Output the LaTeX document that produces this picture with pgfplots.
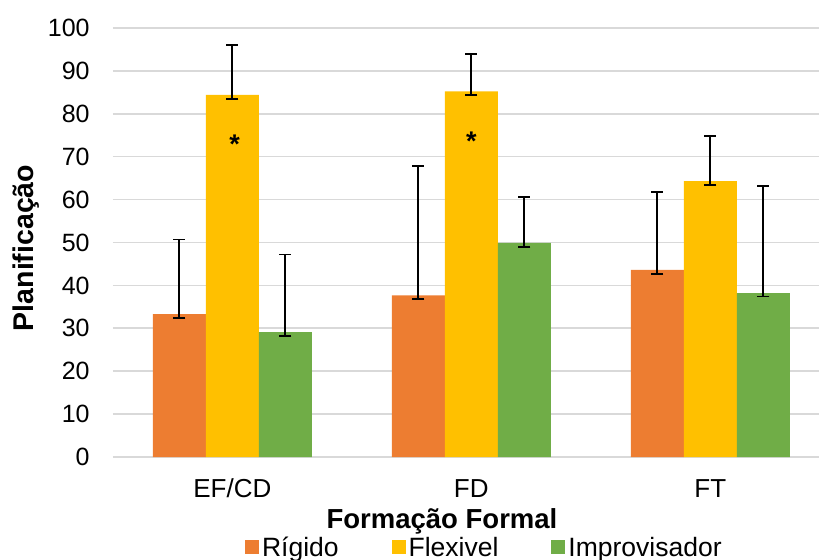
\documentclass[border=0pt]{standalone}
\usepackage{fontspec}
\setmainfont{Liberation Sans}
\usepackage{pgfplots}
\usepackage{pgfplotstable}
\pgfplotsset{compat=1.18}
\definecolor{cR}{HTML}{ED7D31}
\definecolor{cF}{HTML}{FFC000}
\definecolor{cI}{HTML}{70AD47}
\definecolor{gridc}{HTML}{D9D9D9}

\pgfplotstableread{
x y ep em
0 33.3 17.4 0.9
1 37.7 30.1 0.9
2 43.6 18.1 0.9
}\rigido
\pgfplotstableread{
x y ep em
0 84.4 11.6 1.0
1 85.2 8.7 0.9
2 64.3 10.6 0.9
}\flexivel
\pgfplotstableread{
x y ep em
0 29.1 18.1 0.9
1 49.9 10.7 0.9
2 38.2 25.0 0.8
}\improvisador

\begin{document}
\begin{tikzpicture}
\begin{axis}[
  at={(112.8bp,103bp)}, anchor=south west,
  scale only axis, width=717bp, height=429bp,
  xmin=-0.5, xmax=2.5, ymin=0, ymax=100,
  axis line style={draw=none},
  major tick length=0pt,
  ytick={0,10,...,100},
  xtick={0,1,2},
  xticklabels={EF/CD,FD,FT},
  ymajorgrids, xmajorgrids=false,
  grid style={draw=gridc, line width=1.6bp},
  /pgf/number format/assume math mode=true,
  yticklabel style={anchor=east, inner sep=0pt, xshift=-23bp, font=\fontsize{25bp}{30bp}\selectfont},
  xticklabel style={anchor=base, inner sep=0pt, yshift=-40bp, font=\fontsize{26bp}{31bp}\selectfont},
  ybar=0pt, bar width=53bp,
  clip=false,
  legend columns=3,
  legend style={at={(axis description cs:0.1844,-0.212)}, anchor=west,
    draw=none, fill=none, inner sep=0pt, outer sep=0pt,
    nodes={inner sep=0pt},
    font=\fontsize{26.5bp}{31bp}\selectfont,
    /tikz/every odd column/.style={column sep=3bp},
    /tikz/every even column/.style={column sep=53bp}},
  legend image code/.code={\fill[#1] (0bp,-6.2bp) rectangle (14bp,7.8bp);},
  error bars/y dir=both, error bars/y explicit,
  error bars/error bar style={draw=black, line width=1.75bp},
  error bars/error mark options={draw=black, rotate=90, mark size=6bp, line width=1.75bp},
]
\addplot[fill=cR, draw=none] table[x=x, y=y, y error plus=ep, y error minus=em] {\rigido};
\addlegendentry{Rígido}
\addplot[fill=cF, draw=none] table[x=x, y=y, y error plus=ep, y error minus=em] {\flexivel};
\addlegendentry{Flexivel}
\addplot[fill=cI, draw=none] table[x=x, y=y, y error plus=ep, y error minus=em] {\improvisador};
\addlegendentry{Improvisador}
\node[anchor=base, inner sep=0pt, font=\bfseries\fontsize{27bp}{27bp}\selectfont] at (axis cs:0.01,70.8) {*};
\node[anchor=base, inner sep=0pt, font=\bfseries\fontsize{27bp}{27bp}\selectfont] at (axis cs:1,71.4) {*};
\end{axis}
\node[anchor=base, inner sep=0pt, font=\bfseries\fontsize{27.5bp}{33bp}\selectfont] at (442bp,32bp) {Formação Formal};
\node[anchor=base, inner sep=0pt, rotate=90, font=\bfseries\fontsize{28.5bp}{34bp}\selectfont] at (33bp,312bp) {Planificação};
\pgfresetboundingbox
\path[use as bounding box] (0,0) rectangle (819bp,560bp);
\end{tikzpicture}
\end{document}
